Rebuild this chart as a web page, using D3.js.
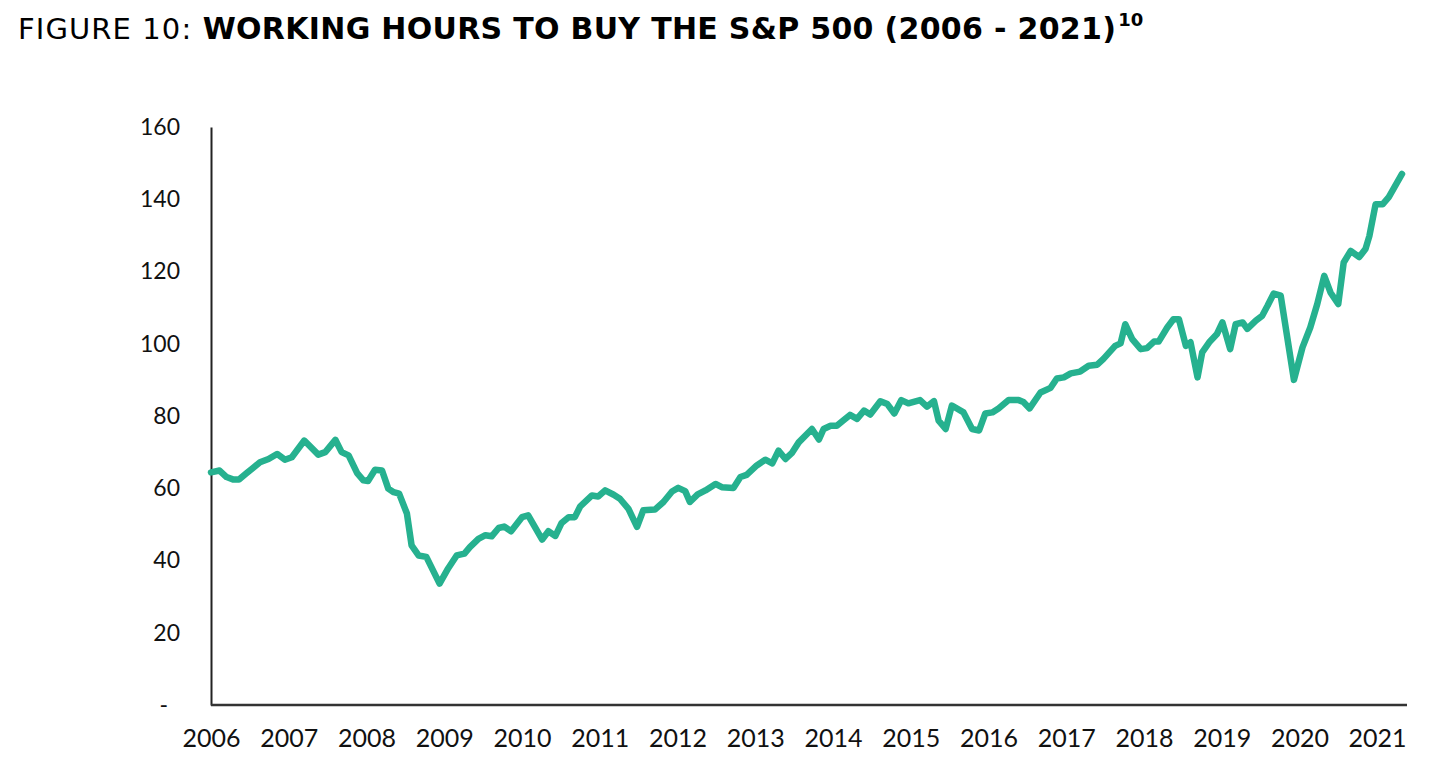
<!DOCTYPE html>
<html>
<head>
<meta charset="utf-8">
<script src="https://cdn.jsdelivr.net/npm/d3@7"></script>
<style>
  html, body { margin: 0; padding: 0; background: #fff; }
  svg { display: block; }
</style>
</head>
<body>
<div id="chart"></div>
<script>
// working hours needed to buy one unit of the S&P 500
const years = [2006.00,2006.11,2006.20,2006.29,2006.36,2006.46,2006.54,2006.63,2006.74,2006.85,2006.95,
  2007.04,2007.20,2007.38,2007.47,2007.60,2007.68,2007.77,2007.88,2007.96,
  2008.02,2008.11,2008.20,2008.28,2008.35,2008.42,2008.52,2008.58,2008.67,2008.77,2008.94,
  2009.05,2009.16,2009.26,2009.33,2009.44,2009.53,2009.61,2009.70,2009.77,2009.86,
  2010.00,2010.08,2010.26,2010.34,2010.43,2010.51,2010.60,2010.68,2010.75,2010.90,2010.98,
  2011.07,2011.18,2011.26,2011.37,2011.48,2011.56,2011.71,2011.82,2011.93,
  2012.01,2012.10,2012.16,2012.26,2012.36,2012.49,2012.57,2012.72,2012.81,2012.89,
  2013.02,2013.13,2013.22,2013.30,2013.39,2013.47,2013.56,2013.73,2013.82,2013.88,2013.97,
  2014.05,2014.14,2014.22,2014.31,2014.40,2014.48,2014.61,2014.70,2014.79,2014.88,2014.97,
  2015.12,2015.21,2015.30,2015.36,2015.45,2015.53,2015.68,2015.79,2015.88,2015.96,
  2016.05,2016.13,2016.26,2016.39,2016.45,2016.53,2016.67,2016.80,2016.88,2016.97,
  2017.06,2017.18,2017.29,2017.40,2017.48,2017.63,2017.70,2017.76,2017.85,2017.96,
  2018.04,2018.13,2018.19,2018.30,2018.38,2018.45,2018.54,2018.60,2018.69,2018.75,2018.84,2018.94,
  2019.01,2019.11,2019.18,2019.27,2019.33,2019.44,2019.52,2019.59,2019.67,2019.76,2019.93,
  2020.04,2020.14,2020.23,2020.32,2020.40,2020.50,2020.57,2020.66,2020.77,2020.85,2020.90,2020.98,
  2021.07,2021.15,2021.32];

const hours = [64.4,64.9,63.1,62.4,62.4,64.2,65.6,67.2,68.1,69.5,67.9,
  68.6,73.2,69.3,70.0,73.4,70.0,69.1,64.2,62.2,
  62.0,65.1,64.9,59.9,58.9,58.5,53.0,44.2,41.4,41.0,33.6,
  37.8,41.4,41.9,43.7,46.0,47.0,46.7,49.0,49.4,48.1,
  52.0,52.5,45.8,48.1,46.8,50.4,52.0,52.0,55.0,58.0,57.7,
  59.4,58.2,57.1,54.3,49.3,53.9,54.1,56.2,59.1,
  60.1,59.2,56.2,58.3,59.4,61.2,60.3,60.1,63.1,63.7,
  66.3,67.9,66.9,70.4,68.1,69.7,72.7,76.4,73.5,76.4,77.3,
  77.3,78.9,80.3,79.2,81.5,80.4,84.1,83.3,80.7,84.4,83.5,
  84.4,82.6,84.1,78.7,76.4,82.9,81.0,76.4,76.0,80.7,
  81.0,82.1,84.4,84.4,83.9,82.1,86.5,87.8,90.4,90.7,
  91.8,92.3,93.9,94.2,95.8,99.4,100.1,105.4,101.3,98.5,
  98.8,100.6,100.6,104.5,106.8,106.8,99.4,100.4,90.7,97.6,100.4,102.7,
  105.9,98.5,105.4,105.9,104.1,106.4,107.7,110.5,113.9,113.3,90.0,
  99.0,104.5,111.0,118.8,114.2,111.0,122.5,125.7,124.0,126.2,129.8,138.6,
  138.6,140.6,147.0];

const yearLabels = [2006,2007,2008,2009,2010,2011,2012,2013,2014,2015,2016,2017,2018,2019,2020,2021];
const yTicks = [0,20,40,60,80,100,120,140,160];

const w = 1446;
const h = 780;
const plotLeft = 211, plotRight = 1402, plotTop = 127, plotBottom = 705;

const data = years.map((y, i) => ({ year: y, value: hours[i] }));

const xScale = d3.scaleLinear().domain([2006, d3.max(years)]).range([plotLeft, plotRight]);
const yScale = d3.scaleLinear().domain([0, 160]).range([plotBottom, plotTop]);

const svg = d3.select("#chart")
  .append("svg")
  .attr("width", w)
  .attr("height", h)
  .style("background-color", "#fff");

// title
const title = svg.append("text")
  .attr("x", 18)
  .attr("y", 39)
  .style("font-family", "'DejaVu Sans', Verdana, sans-serif")
  .style("font-size", "29px")
  .attr("fill", "#000");
title.append("tspan").style("letter-spacing", "1.1px").text("FIGURE 10: ");
title.append("tspan").attr("font-weight", "bold").style("font-size", "30px")
  .style("letter-spacing", "0.3px")
  .text("WORKING HOURS TO BUY THE S&P 500 (2006 - 2021)");
title.append("tspan").attr("font-weight", "bold").style("font-size", "18px")
  .attr("dx", 2).attr("dy", -13).text("10");

// axes
const yAxis = d3.axisLeft(yScale)
  .tickValues(yTicks)
  .tickSize(0)
  .tickPadding(31)
  .tickFormat(d => d === 0 ? "-" : d);

const gy = svg.append("g")
  .attr("id", "y-axis")
  .attr("transform", "translate(" + plotLeft + ",0)")
  .call(yAxis);
gy.select(".domain").attr("stroke", "#222").attr("stroke-width", 2);
gy.selectAll("text")
  .style("font-family", "Lato, 'Open Sans', sans-serif")
  .style("font-size", "23px")
  .attr("fill", "#111")
  .attr("dx", d => d === 0 ? -12 : 0);

const xAxis = d3.axisBottom(xScale)
  .tickValues(yearLabels)
  .tickSize(0)
  .tickPadding(24)
  .tickFormat(d3.format("d"));

const gx = svg.append("g")
  .attr("id", "x-axis")
  .attr("transform", "translate(0," + plotBottom + ")")
  .call(xAxis);
gx.select(".domain")
  .attr("d", "M" + plotLeft + ",0H" + (plotRight + 5))
  .attr("stroke", "#333")
  .attr("stroke-width", 2.5);
gx.selectAll("text")
  .style("font-family", "Lato, 'Open Sans', sans-serif")
  .style("font-size", "25px")
  .attr("fill", "#111");

// line
const line = d3.line()
  .x(d => xScale(d.year))
  .y(d => yScale(d.value));

svg.append("path")
  .datum(data)
  .attr("d", line)
  .attr("fill", "none")
  .attr("stroke", "#26b18f")
  .attr("stroke-width", 6.5)
  .attr("stroke-linejoin", "round")
  .attr("stroke-linecap", "round");
</script>
</body>
</html>
